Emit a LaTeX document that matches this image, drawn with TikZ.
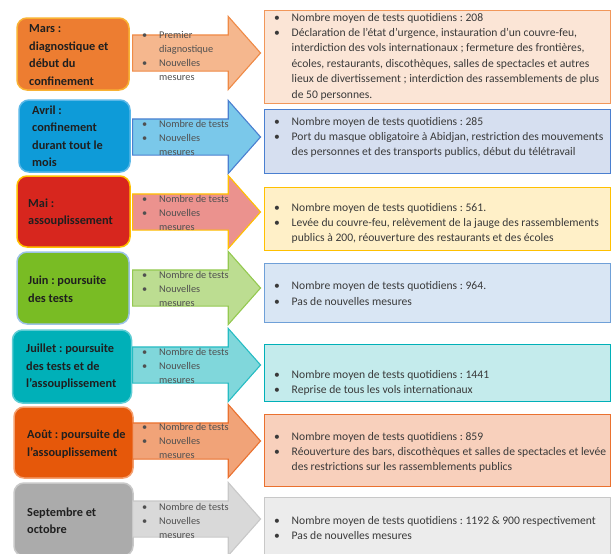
\documentclass[tikz,border=0pt]{standalone}
\usepackage{fontspec}
\setmainfont{Carlito}
\usetikzlibrary{shapes.arrows}

\definecolor{marsF}{HTML}{ED7D31}\definecolor{marsB}{HTML}{F9B233}
\definecolor{avrF}{HTML}{0E9BD8}\definecolor{avrB}{HTML}{5BB8E8}
\definecolor{maiF}{HTML}{D7261E}\definecolor{maiB}{HTML}{FFC000}
\definecolor{juinF}{HTML}{79BC24}\definecolor{juinB}{HTML}{9DC3E6}
\definecolor{juilF}{HTML}{00B0B8}\definecolor{juilB}{HTML}{5FCDD4}
\definecolor{aoutF}{HTML}{E6580A}\definecolor{aoutB}{HTML}{F4A070}
\definecolor{septF}{HTML}{ABABAB}\definecolor{septB}{HTML}{C8C8C8}
\definecolor{avrDF}{HTML}{D6DFF0}\definecolor{avrDB}{HTML}{4A7FD0}
\definecolor{maiDF}{HTML}{FFF0C8}
\definecolor{juinDF}{HTML}{D9E6F4}\definecolor{juinDB}{HTML}{6FA0D8}
\definecolor{juilDF}{HTML}{C4EBEC}
\definecolor{aoutDF}{HTML}{F8D0BC}
\definecolor{septDF}{HTML}{ECECEC}
\definecolor{txtgray}{HTML}{3A3A3A}
\definecolor{arrgray}{HTML}{505050}

\newcommand{\bul}{\makebox[17.5pt][l]{\textbullet}}
\newcommand{\cnt}{\hspace*{17.5pt}}
\newcommand{\abul}{\makebox[17pt][l]{\textbullet}}

\begin{document}
\frenchspacing
\begin{tikzpicture}[
  x=1pt, y=-1pt,
  every node/.style={font=\fontsize{11.6}{15.4}\selectfont, text=txtgray},
  month/.style={draw, line width=1.5pt, rounded corners=10pt, minimum height=72pt, inner sep=0pt},
  monthtext/.style={anchor=west, align=left, inner sep=0pt, font=\fontsize{12.3}{17.5}\selectfont\bfseries, text=black!88},
  bigarrow/.style={single arrow, draw, line width=1.1pt, minimum height=128pt, inner xsep=0pt, inner ysep=17.5pt, single arrow head extend=18.5pt, single arrow tip angle=97, anchor=tail},
  arrtext/.style={anchor=west, align=left, font=\fontsize{10.3}{14}\selectfont, text=arrgray, inner sep=0pt},
  detail/.style={draw, line width=1.2pt, minimum width=346pt, anchor=north west, inner sep=0pt},
  dettext/.style={anchor=west, align=left, inner sep=0pt}
]
\useasboundingbox (0,0) rectangle (611,554);

% mois
\node[month, fill=marsF, draw=marsB, minimum width=112pt] (mars) at (73,54) {};
\node[month, fill=avrF, draw=avrB, minimum width=111pt] (avril) at (74.5,136) {};
\node[month, fill=maiF, draw=maiB, minimum width=113pt, minimum height=71pt] (mai) at (73.5,211.5) {};
\node[month, fill=juinF, draw=juinB, minimum width=112pt] (juin) at (73,288) {};
\node[month, fill=juilF, draw=juilB, minimum width=119pt, minimum height=73pt] (juillet) at (72,366.5) {};
\node[month, fill=aoutF, draw=aoutB, minimum width=119pt, minimum height=71pt] (aout) at (73.5,442.5) {};
\node[month, fill=septF, draw=septB, minimum width=119pt, minimum height=73pt] (sept) at (73.5,519.5) {};

\node[monthtext] (marsL) at (29,55) {Mars :\\diagnostique et\\début du\\confinement};
\node[monthtext] (avrilL) at (32,136) {Avril :\\confinement\\durant tout le\\mois};
\node[monthtext] (maiL) at (28,212.5) {Mai :\\assouplissement};
\node[monthtext] (juinL) at (28,289) {Juin : poursuite\\des tests};
\node[monthtext] (juilletL) at (26,367) {Juillet : poursuite\\des tests et de\\l'assouplissement};
\node[monthtext] (aoutL) at (27,444) {Août : poursuite de\\l'assouplissement};
\node[monthtext] (septL) at (27,520.5) {Septembre et\\octobre};

% fleches
\node[bigarrow, fill=marsF!55, draw=marsF!90] (marsA) at (132,53) {};
\node[bigarrow, fill=avrF!55, draw=avrDB] (avrilA) at (132,137) {};
\node[bigarrow, fill=maiF!50, draw=maiB] (maiA) at (132,212) {};
\node[bigarrow, fill=juinF!50, draw=juinF!80] (juinA) at (132,288) {};
\node[bigarrow, fill=juilF!50, draw=juilF!85] (juilletA) at (132,365) {};
\node[bigarrow, fill=aoutF!55, draw=aoutF!85] (aoutA) at (132,441) {};
\node[bigarrow, fill=septF!45, draw=septB] (septA) at (132,519) {};

\node[arrtext] (marsAT) at (142,56) {\abul Premier\\\hspace*{17pt}diagnostique\\\abul Nouvelles\\\hspace*{17pt}mesures};
\node[arrtext] (avrilAT) at (142,137.5) {\abul Nombre de tests\\\abul Nouvelles\\\hspace*{17pt}mesures};
\node[arrtext] (maiAT) at (142,212.5) {\abul Nombre de tests\\\abul Nouvelles\\\hspace*{17pt}mesures};
\node[arrtext] (juinAT) at (142,288.5) {\abul Nombre de tests\\\abul Nouvelles\\\hspace*{17pt}mesures};
\node[arrtext] (juilletAT) at (142,366) {\abul Nombre de tests\\\abul Nouvelles\\\hspace*{17pt}mesures};
\node[arrtext] (aoutAT) at (142,441) {\abul Nombre de tests\\\abul Nouvelles\\\hspace*{17pt}mesures};
\node[arrtext] (septAT) at (142,521) {\abul Nombre de tests\\\abul Nouvelles\\\hspace*{17pt}mesures};

% details
\node[detail, fill=marsF!20, draw=marsF!80, minimum height=93pt] (marsD) at (264,10) {};
\node[detail, fill=avrDF, draw=avrDB, minimum height=64pt] (avrilD) at (264,109) {};
\node[detail, fill=maiDF, draw=maiB, minimum height=63pt] (maiD) at (264,187) {};
\node[detail, fill=juinDF, draw=juinDB, minimum height=59pt] (juinD) at (264,263) {};
\node[detail, fill=juilDF, draw=juilF, minimum height=57pt] (juilletD) at (264,344) {};
\node[detail, fill=aoutDF, draw=aoutF!85, minimum height=72pt] (aoutD) at (264,414) {};
\node[detail, fill=septDF, draw=septB, minimum height=60pt] (septD) at (264,497) {};

\node[dettext] (marsT) at (274,56.5) {\bul Nombre moyen de tests quotidiens : 208\\\bul Déclaration de l'état d'urgence, instauration d'un couvre-feu,\\\cnt interdiction des vols internationaux ; fermeture des frontières,\\\cnt écoles, restaurants, discothèques, salles de spectacles et autres\\\cnt lieux de divertissement ; interdiction des rassemblements de plus\\\cnt de 50 personnes.};
\node[dettext] (avrilT) at (274,137.5) {\bul Nombre moyen de tests quotidiens : 285\\\bul Port du masque obligatoire à Abidjan, restriction des mouvements\\\cnt des personnes et des transports publics, début du télétravail};
\node[dettext] (maiT) at (274,223.5) {\bul Nombre moyen de tests quotidiens : 561.\\\bul Levée du couvre-feu, relèvement de la jauge des rassemblements\\\cnt publics à 200, réouverture des restaurants et des écoles};
\node[dettext] (juinT) at (274,293.5) {\bul Nombre moyen de tests quotidiens : 964.\\\bul Pas de nouvelles mesures};
\node[dettext] (juilletT) at (274,383) {\bul Nombre moyen de tests quotidiens : 1441\\\bul Reprise de tous les vols internationaux};
\node[dettext] (aoutT) at (274,452.5) {\bul Nombre moyen de tests quotidiens : 859\\\bul Réouverture des bars, discothèques et salles de spectacles et levée\\\cnt des restrictions sur les rassemblements publics};
\node[dettext] (septT) at (274,528) {\bul Nombre moyen de tests quotidiens : 1192 \& 900 respectivement\\\bul Pas de nouvelles mesures};
\end{tikzpicture}
\end{document}
